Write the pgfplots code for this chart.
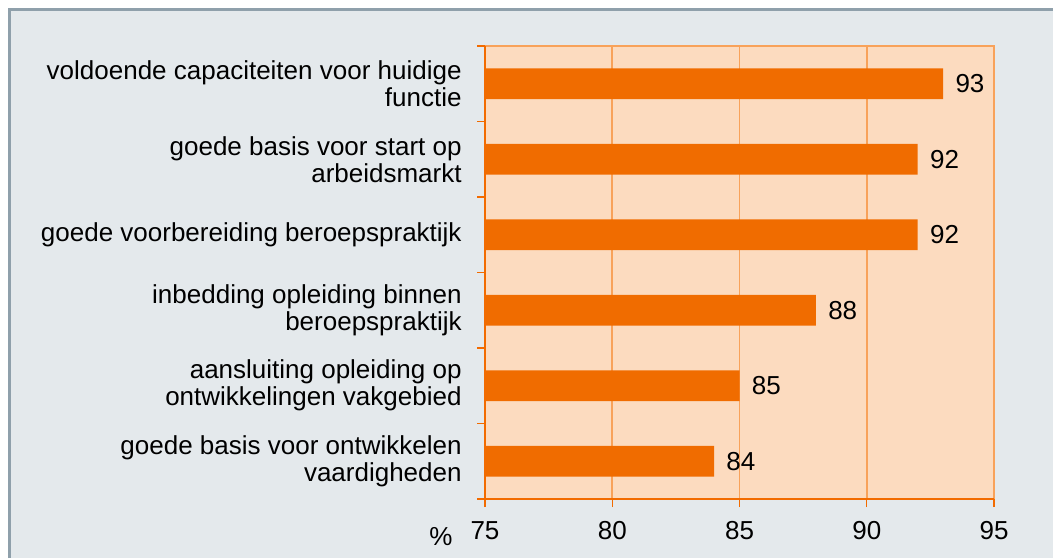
\documentclass[border=0pt]{standalone}
\usepackage{fontspec}
\setmainfont{Liberation Sans}
\usepackage{pgfplots}
\pgfplotsset{compat=1.18}
\definecolor{panelbg}{HTML}{E4E9EC}
\definecolor{frameline}{HTML}{8FA0AB}
\definecolor{plotbg}{HTML}{FCDBBF}
\definecolor{barcol}{HTML}{F06C00}
\definecolor{gridcol}{HTML}{F8A25A}
\definecolor{axiscol}{HTML}{F26B00}
\newcommand{\lblfont}{\fontsize{13}{13.5}\selectfont}
\begin{document}
\begin{tikzpicture}[x=1pt,y=1pt]
\path[use as bounding box, fill=white] (0,0) rectangle (526.5,279);
\fill[panelbg] (4.5,0) rectangle (526.5,274);
\draw[frameline, line width=1.5pt] (4.5,0) -- (4.5,274) -- (526.5,274);
\begin{axis}[
  at={(242.5pt,29.5pt)}, anchor=south west,
  width=254.5pt, height=226.5pt, scale only axis,
  xbar, bar width=0.41,
  xmin=75, xmax=95, ymin=-0.5, ymax=5.5,
  y dir=reverse,
  axis background/.style={fill=plotbg},
  axis line style={draw=none},
  xtick={75,80,85,90,95},
  xtick pos=bottom, tick align=outside,
  major tick length=4pt,
  tick style={draw=axiscol, line width=0.6pt},
  xmajorgrids, grid style={gridcol, line width=0.8pt},
  xticklabel style={font=\lblfont, inner sep=0pt, yshift=-7pt},
  /pgf/number format/assume math mode=true,
  ytick={-0.5,0.5,1.5,2.5,3.5,4.5,5.5},
  yticklabels={},
  ytick pos=left,
  extra y ticks={0,1,2,3,4,5},
  extra y tick labels={
    {voldoende capaciteiten voor huidige\\functie},
    {goede basis voor start op\\arbeidsmarkt},
    {goede voorbereiding beroepspraktijk},
    {inbedding opleiding binnen\\beroepspraktijk},
    {aansluiting opleiding op\\ontwikkelingen vakgebied},
    {goede basis voor ontwikkelen\\vaardigheden}},
  extra y tick style={major tick length=0pt, tick style={draw=none},
    yticklabel style={font=\lblfont, align=right, inner sep=0pt, xshift=-11.5pt}},
  nodes near coords,
  nodes near coords style={font=\lblfont, anchor=west, inner sep=0pt, xshift=6pt},
  clip=false,
]
\addplot[fill=barcol, draw=none] coordinates {
  (93,0) (92,1) (92,2) (88,3) (85,4) (84,5)
};
\draw[gridcol, line width=0.8pt] (rel axis cs:0,1) -- (rel axis cs:1,1) -- (rel axis cs:1,0);
\draw[axiscol, line width=1pt] (rel axis cs:0,1) -- (rel axis cs:0,0) -- (rel axis cs:1,0);
\node[anchor=north, inner sep=0pt, font=\lblfont] at ([xshift=-22pt, yshift=-14pt]rel axis cs:0,0) {\%};
\end{axis}
\end{tikzpicture}
\end{document}
